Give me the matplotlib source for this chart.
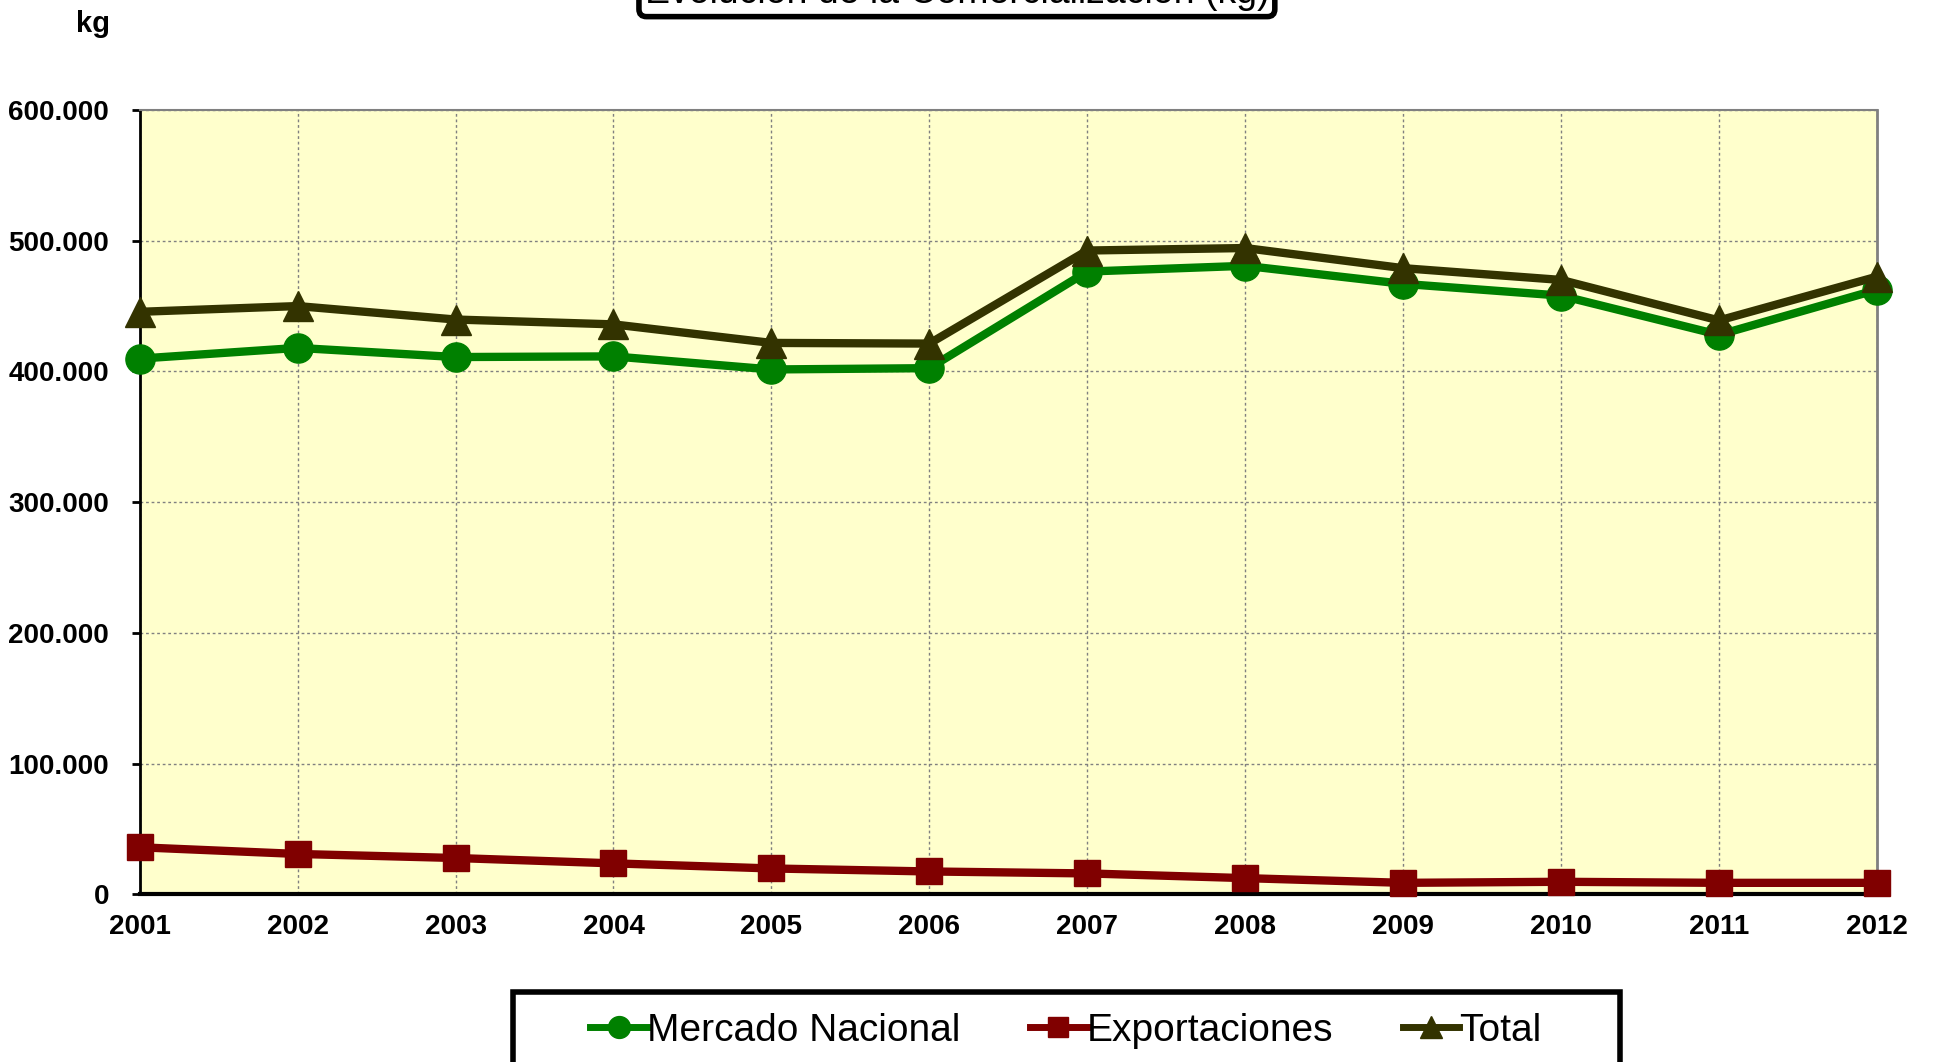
import matplotlib
matplotlib.use("Agg")
import matplotlib.pyplot as plt
from matplotlib.patches import Rectangle
from matplotlib.ticker import FuncFormatter

years = [2001, 2002, 2003, 2004, 2005, 2006, 2007, 2008, 2009, 2010, 2011, 2012]
mercado_nacional = [409800, 418000, 411000, 411500, 401500, 402500, 476400, 480800, 467000, 458000, 428000, 462500]
exportaciones = [35900, 30800, 27700, 23600, 19700, 17400, 15900, 12300, 8700, 9500, 8700, 8700]
total = [445600, 450000, 439700, 436000, 421800, 421300, 492500, 494400, 479000, 470000, 439000, 472500]
y_ticks = [0, 100000, 200000, 300000, 400000, 500000, 600000]

plt.rcParams['font.family'] = ['Liberation Sans', 'DejaVu Sans']

W, H = 1937, 1062
fig = plt.figure(figsize=(W / 100, H / 100), dpi=100)
ax = fig.add_axes([0.0721, 0.158, 0.969 - 0.0721, 0.8964 - 0.158])
ax.set_facecolor('#FFFFCC')

l1, = ax.plot(years, mercado_nacional, color='#008000', lw=6, marker='o', ms=21, clip_on=False, zorder=3)
l2, = ax.plot(years, exportaciones, color='#800000', lw=6, marker='s', ms=19, clip_on=False, zorder=3)
l3, = ax.plot(years, total, color='#333300', lw=6, marker='^', ms=21, clip_on=False, zorder=4)

ax.set_xlim(2001, 2012)
ax.set_ylim(0, 600000)
ax.set_xticks(years)
ax.set_yticks(y_ticks)
ax.yaxis.set_major_formatter(FuncFormatter(lambda v, p: '0' if v == 0 else f'{int(v):,}'.replace(',', '.')))
ax.grid(True, color='#808080', linestyle=(0, (2, 2)), linewidth=1)
ax.set_axisbelow(True)
for lab in ax.get_xticklabels() + ax.get_yticklabels():
    lab.set_fontweight('bold')
    lab.set_fontsize(20)
ax.tick_params(axis='y', direction='out', length=6, width=2, pad=16)
ax.tick_params(axis='x', direction='out', length=0, pad=14)
ax.spines['left'].set_color('black')
ax.spines['left'].set_linewidth(2)
ax.spines['bottom'].set_color('black')
ax.spines['bottom'].set_linewidth(3)
ax.spines['right'].set_color('#808080')
ax.spines['right'].set_linewidth(2)
ax.spines['top'].set_color('#808080')
ax.spines['top'].set_linewidth(1.5)

fig.text(93 / W, 1 - 24 / H, 'kg', fontsize=21, fontweight='bold', ha='center', va='center')

fig.text(0.494, 1 - 3 / H, 'Evolución de la Comercialización (kg)', fontsize=27,
         ha='center', va='baseline',
         bbox=dict(boxstyle='round,pad=0.15,rounding_size=0.2', facecolor='white', edgecolor='black', linewidth=4))

# legend box (extends past the bottom edge as in the reference)
fig.patches.append(Rectangle((513 / W, 1 - 1075 / H), 1107 / W, 83 / H, transform=fig.transFigure,
                             facecolor='white', edgecolor='black', linewidth=4, zorder=1))

leg = fig.legend([l1, l2, l3], ['Mercado Nacional', 'Exportaciones', 'Total'],
                 loc='center', bbox_to_anchor=(1066 / W, 1 - 1031 / H), ncol=3,
                 fontsize=28, frameon=False, handlelength=1.45,
                 handletextpad=0.0, columnspacing=1.8, markerscale=0.75, borderpad=0.0,
                 borderaxespad=0.0)
leg.set_zorder(5)
for h in leg.legend_handles:
    h.set_linewidth(5)

fig.savefig('out.png', dpi=100)
